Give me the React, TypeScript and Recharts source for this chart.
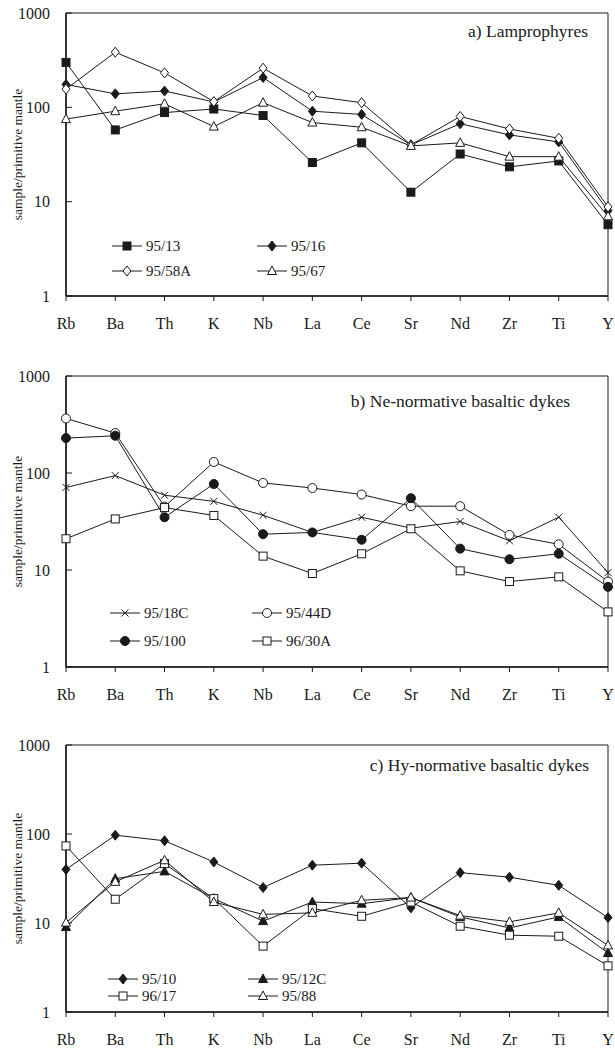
import React from "react";
import { LineChart, Line, XAxis, YAxis, ReferenceArea } from "recharts";

const elements = ["Rb", "Ba", "Th", "K", "Nb", "La", "Ce", "Sr", "Nd", "Zr", "Ti", "Y"];
const yTicks = [1, 10, 100, 1000];

// a) Lamprophyres
const s95_13 = [299, 57.6, 88, 96, 82, 26, 42, 12.6, 32, 23.4, 27, 5.7];
const s95_16 = [175, 139, 149, 114, 207, 91, 84, 40, 67, 51, 43, 8.0];
const s95_58A = [156, 384, 232, 115, 260, 132, 112, 40, 80, 59, 47, 8.8];
const s95_67 = [75, 91, 109, 62.5, 112, 69, 61.5, 39, 42, 30, 30, 7.0];

// b) Ne-normative basaltic dykes
const s95_18C = [71, 94, 59, 51, 36.7, 24.4, 35, 27, 31.6, 20, 35, 9.4];
const s95_44D = [365, 258, 45, 130, 79, 70, 60, 45.5, 45.5, 23, 18.4, 7.6];
const s95_100 = [229, 242, 35, 77, 23.4, 24.4, 20.5, 55, 16.6, 12.9, 14.7, 6.7];
const s96_30A = [21, 33.6, 44, 36.5, 13.9, 9.2, 14.7, 26.6, 9.8, 7.6, 8.5, 3.7];

// c) Hy-normative basaltic dykes
const s95_10 = [40, 97, 84, 48.5, 25, 44.6, 47, 14.8, 36.8, 32.7, 26.5, 11.5];
const s95_12C = [9.0, 31.5, 38, 18.8, 10.5, 17.2, 16.5, 19.3, 11.7, 8.8, 11.7, 4.6];
const s96_17 = [73.5, 18.5, 46.5, 18.8, 5.5, 14.5, 11.9, 17.2, 9.2, 7.3, 7.1, 3.3];
const s95_88 = [10.1, 29, 50.7, 17.2, 12.5, 13, 18, 19.3, 12.1, 10.3, 13, 5.6];

const FONT = "Liberation Serif, Times New Roman, serif";
const INK = "#1a1a1a";

type MarkerKind =
  | "squareFilled"
  | "squareOpen"
  | "diamondFilled"
  | "diamondOpen"
  | "triangleFilled"
  | "triangleOpen"
  | "circleFilled"
  | "circleOpen"
  | "cross";

function marker(kind: MarkerKind, cx: number, cy: number, key?: any) {
  const fill = kind.endsWith("Filled") ? INK : "#fff";
  switch (kind) {
    case "squareFilled":
    case "squareOpen":
      return <rect key={key} x={cx - 4} y={cy - 4} width={8} height={8} fill={fill} stroke={INK} strokeWidth={1} />;
    case "diamondFilled":
    case "diamondOpen":
      return (
        <polygon
          key={key}
          points={`${cx},${cy - 5} ${cx + 4},${cy} ${cx},${cy + 5} ${cx - 4},${cy}`}
          fill={fill}
          stroke={INK}
          strokeWidth={1}
        />
      );
    case "triangleFilled":
    case "triangleOpen":
      return (
        <polygon
          key={key}
          points={`${cx},${cy - 5} ${cx + 4.5},${cy + 3.5} ${cx - 4.5},${cy + 3.5}`}
          fill={fill}
          stroke={INK}
          strokeWidth={1}
        />
      );
    case "circleFilled":
    case "circleOpen":
      return <circle key={key} cx={cx} cy={cy} r={4.5} fill={fill} stroke={INK} strokeWidth={1} />;
    case "cross":
      return (
        <g key={key} stroke={INK} strokeWidth={1}>
          <line x1={cx - 3.5} y1={cy - 3.5} x2={cx + 3.5} y2={cy + 3.5} />
          <line x1={cx - 3.5} y1={cy + 3.5} x2={cx + 3.5} y2={cy - 3.5} />
        </g>
      );
  }
}

interface SeriesDef {
  name: string;
  values: number[];
  kind: MarkerKind;
}

interface PanelProps {
  top: number;
  height: number;
  plotTop: number;
  axisHeight: number;
  title: string;
  titleRight: number;
  titleY: number;
  series: SeriesDef[];
  legendX: [number, number];
  legendY: [number, number];
}

const Panel: React.FC<PanelProps> = ({
  top,
  height,
  plotTop,
  axisHeight,
  title,
  titleRight,
  titleY,
  series,
  legendX,
  legendY,
}) => {
  const data = elements.map((el, i) => {
    const row: Record<string, any> = { el };
    series.forEach((s) => {
      row[s.name] = s.values[i];
    });
    return row;
  });
  const plotBottom = height - axisHeight;
  const labelY = (plotTop + plotBottom) / 2;

  return (
    <div style={{ position: "absolute", left: 0, top, width: 615, height, fontFamily: FONT }}>
      <LineChart
        width={615}
        height={height}
        data={data}
        margin={{ top: plotTop, right: 7, left: 0, bottom: 0 }}
        style={{ fontFamily: FONT }}
      >
        <ReferenceArea x1="Rb" x2="Y" y1={1} y2={1000} fill="none" stroke={INK} strokeWidth={1} />
        <XAxis
          dataKey="el"
          height={axisHeight}
          interval={0}
          tickSize={5}
          tickMargin={17}
          axisLine={{ stroke: INK, strokeWidth: 1.5 }}
          tickLine={{ stroke: INK }}
          tick={{ fill: INK, fontSize: 16, style: { fontFamily: FONT } }}
        />
        <YAxis
          scale="log"
          domain={[1, 1000]}
          ticks={yTicks}
          allowDataOverflow
          width={66}
          tickSize={-6}
          tickMargin={22}
          axisLine={{ stroke: INK, strokeWidth: 1.5 }}
          tickLine={{ stroke: INK }}
          tick={{ fill: INK, fontSize: 16, style: { fontFamily: FONT } }}
        />
        {series.map((s) => (
          <Line
            key={s.name}
            dataKey={s.name}
            stroke={INK}
            strokeWidth={1}
            isAnimationActive={false}
            dot={(p: any) => marker(s.kind, p.cx, p.cy, `${s.name}-${p.index}`)}
            activeDot={false}
          />
        ))}
      </LineChart>
      <svg
        width={615}
        height={height}
        style={{ position: "absolute", left: 0, top: 0, pointerEvents: "none", fontFamily: FONT }}
      >
        <text
          x={17}
          y={labelY}
          transform={`rotate(-90 17 ${labelY})`}
          textAnchor="middle"
          dominantBaseline="central"
          fontSize={13.5}
          fill={INK}
        >
          sample/primitive mantle
        </text>
        <text x={titleRight} y={titleY} textAnchor="end" fontSize={17.5} fill={INK}>
          {title}
        </text>
        {series.map((s, i) => {
          const x0 = legendX[i % 2];
          const y0 = legendY[Math.floor(i / 2)];
          return (
            <g key={s.name}>
              <line x1={x0} y1={y0} x2={x0 + 30} y2={y0} stroke={INK} strokeWidth={1} />
              {marker(s.kind, x0 + 15, y0)}
              <text x={x0 + 34} y={y0} dominantBaseline="central" fontSize={15} fill={INK}>
                {s.name}
              </text>
            </g>
          );
        })}
      </svg>
    </div>
  );
};

export default function App() {
  return (
    <div style={{ position: "absolute", left: 0, top: 0, width: 615, height: 1050, background: "#fff" }}>
      <Panel
        top={0}
        height={340}
        plotTop={13}
        axisHeight={44}
        title="a) Lamprophyres"
        titleRight={588}
        titleY={37}
        legendX={[112, 257]}
        legendY={[246, 271]}
        series={[
          { name: "95/13", values: s95_13, kind: "squareFilled" },
          { name: "95/16", values: s95_16, kind: "diamondFilled" },
          { name: "95/58A", values: s95_58A, kind: "diamondOpen" },
          { name: "95/67", values: s95_67, kind: "triangleOpen" },
        ]}
      />
      <Panel
        top={340}
        height={365}
        plotTop={36}
        axisHeight={38}
        title="b) Ne-normative basaltic dykes"
        titleRight={570}
        titleY={67}
        legendX={[110, 252]}
        legendY={[273, 301]}
        series={[
          { name: "95/18C", values: s95_18C, kind: "cross" },
          { name: "95/44D", values: s95_44D, kind: "circleOpen" },
          { name: "95/100", values: s95_100, kind: "circleFilled" },
          { name: "96/30A", values: s96_30A, kind: "squareOpen" },
        ]}
      />
      <Panel
        top={705}
        height={345}
        plotTop={40}
        axisHeight={38}
        title="c) Hy-normative basaltic dykes"
        titleRight={589}
        titleY={66}
        legendX={[108, 248]}
        legendY={[274, 291]}
        series={[
          { name: "95/10", values: s95_10, kind: "diamondFilled" },
          { name: "95/12C", values: s95_12C, kind: "triangleFilled" },
          { name: "96/17", values: s96_17, kind: "squareOpen" },
          { name: "95/88", values: s95_88, kind: "triangleOpen" },
        ]}
      />
    </div>
  );
}
